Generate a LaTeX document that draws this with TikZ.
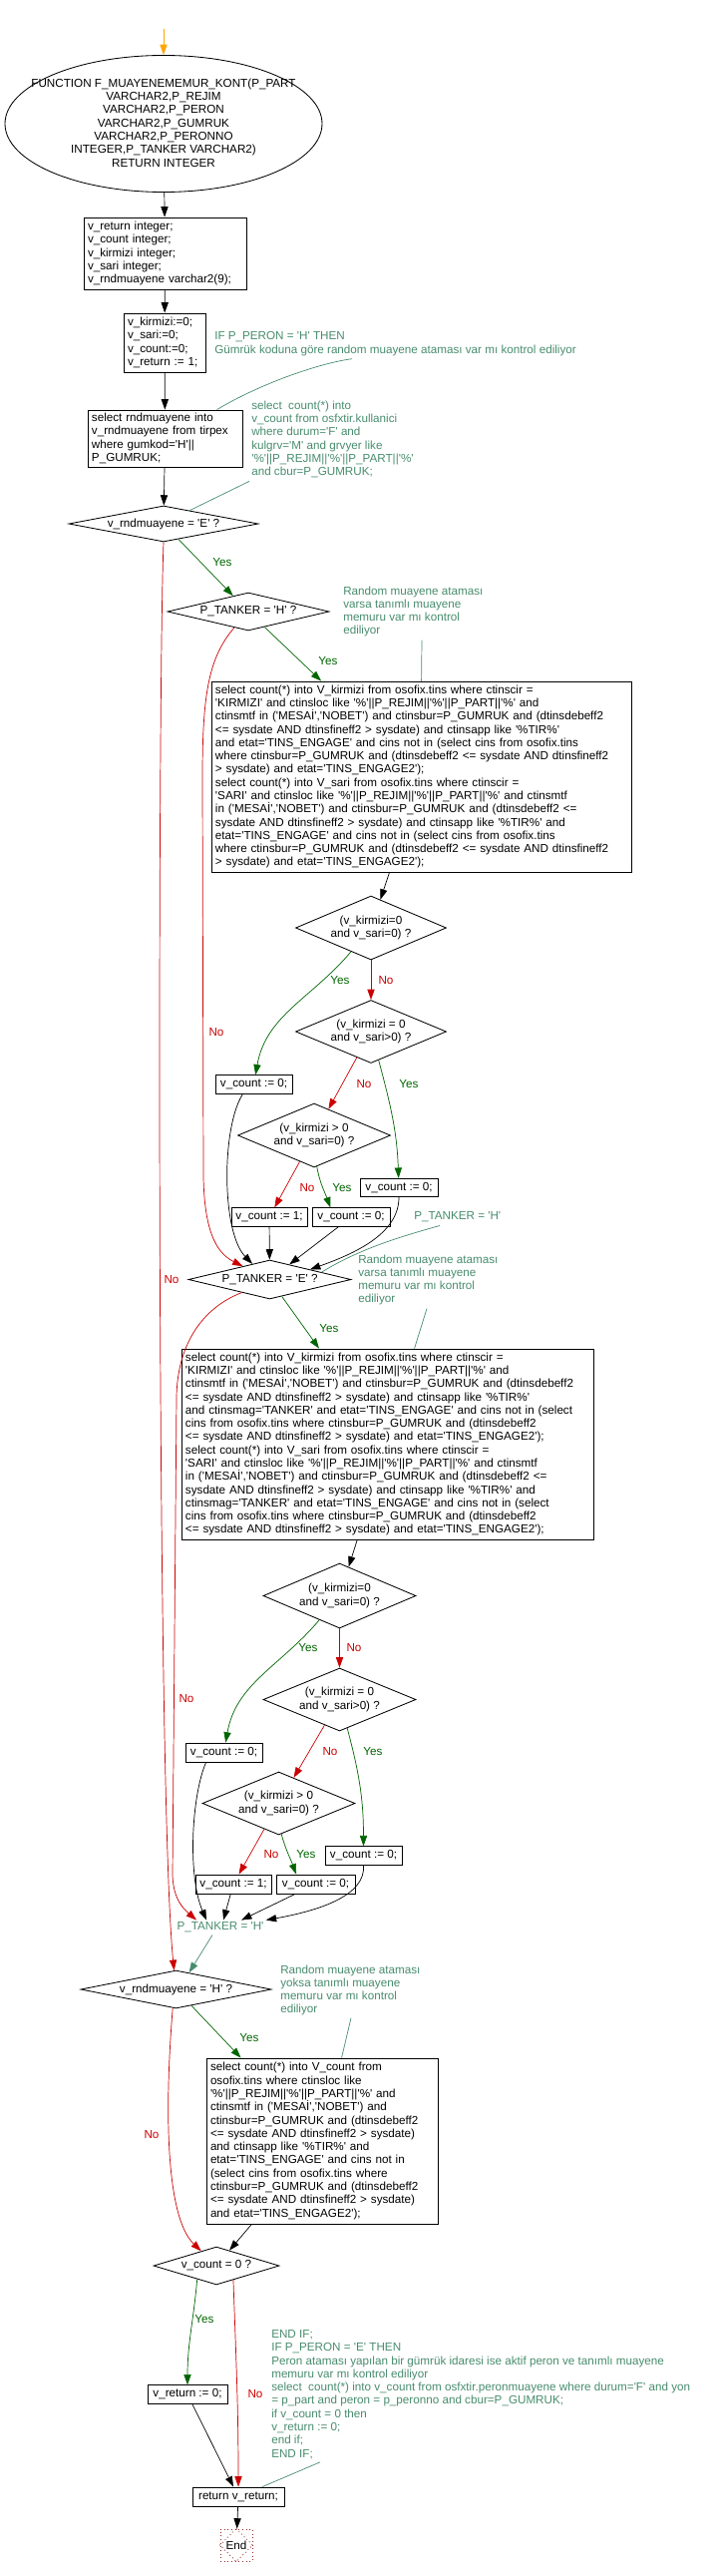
\documentclass[tikz,border=0pt]{standalone}
\usepackage{fontspec}
\usepackage{tikz}
\usetikzlibrary{shapes.geometric,arrows.meta,calc}
\newfontfamily\akisfont{Liberation Sans}
\newcommand{\akisyazi}{\akisfont\fontsize{8.3}{9.45}\selectfont}
\definecolor{hayirkirmizi}{RGB}{204,0,0}
\definecolor{evetyesil}{RGB}{0,100,0}
\definecolor{yorumyesil}{RGB}{72,140,110}
\definecolor{bitiskahve}{RGB}{150,40,40}
\definecolor{giristuruncu}{RGB}{255,165,0}

\begin{document}
\begin{tikzpicture}[x=0.25mm,y=-0.25mm]
\tikzstyle{kutu}=[rectangle,draw,line width=0.6pt,align=left,inner xsep=1mm,inner ysep=0.5mm,font=\akisyazi]
\tikzstyle{tek_kutu}=[rectangle,draw,line width=0.6pt,inner xsep=0.5mm,inner ysep=0.5mm,minimum height=4.6mm,font=\akisyazi]
\tikzstyle{karar}=[diamond,draw,line width=0.6pt,inner sep=0pt,align=center,font=\akisyazi]
\tikzstyle{yorum}=[anchor=west,align=left,inner sep=0pt,text=yorumyesil,font=\akisyazi]
\tikzstyle{evet_yazi}=[text=evetyesil,inner sep=0pt,font=\akisyazi]
\tikzstyle{hayir_yazi}=[text=hayirkirmizi,inner sep=0pt,font=\akisyazi]
\tikzstyle{oklu}=[-{Triangle[length=2.6mm,width=1.8mm]},line width=0.5pt]
\tikzstyle{yorum_cizgi}=[yorumyesil,line width=0.5pt]
\useasboundingbox (0,0) rectangle (721,2582);

% fonksiyon basi
\coordinate (giris) at (164,29);
\node[ellipse,draw,line width=0.6pt,minimum width=79.5mm,minimum height=34.25mm,inner sep=0pt] (fonk) at (164,124) {};
\node[font=\akisyazi,align=center,inner sep=0pt] (fonk_yazi) at (164,123) {FUNCTION F\_MUAYENEMEMUR\_KONT(P\_PART\\VARCHAR2,P\_REJIM\\VARCHAR2,P\_PERON\\VARCHAR2,P\_GUMRUK\\VARCHAR2,P\_PERONNO\\INTEGER,P\_TANKER VARCHAR2)\\RETURN INTEGER};
\node[kutu,text width=38.75mm,minimum height=18mm] (tanim) at (165.5,254) {v\_return integer;\\v\_count integer;\\v\_kirmizi integer;\\v\_sari integer;\\v\_rndmuayene varchar2(9);};
\node[kutu,text width=18.5mm,minimum height=14.75mm] (ilk) at (165,343.5) {v\_kirmizi:=0;\\v\_sari:=0;\\v\_count:=0;\\v\_return := 1;};
\node[kutu,text width=36.75mm,minimum height=14.25mm] (rnd) at (165.5,439.5) {select rndmuayene into\\v\_rndmuayene from tirpex\\where gumkod='H'||\\P\_GUMRUK;};
\node[karar,minimum width=47.5mm,minimum height=9mm,aspect=5.28] (k1) at (164,525) {v\_rndmuayene = 'E' ?};
\node[karar,minimum width=40.5mm,minimum height=9.5mm,aspect=4.26] (k2) at (249,613) {P\_TANKER = 'H' ?};

% birinci sorgu
\node[kutu,text width=103.25mm,minimum height=47.75mm] (sorgu1) at (422.5,778.5) {select count(*) into V\_kirmizi from osofix.tins where ctinscir =\\'KIRMIZI' and ctinsloc like '\%'||P\_REJIM||'\%'||P\_PART||'\%' and\\ctinsmtf in ('MESAİ','NOBET') and ctinsbur=P\_GUMRUK and (dtinsdebeff2\\<= sysdate AND dtinsfineff2 > sysdate) and ctinsapp like '\%TIR\%'\\and etat='TINS\_ENGAGE' and cins not in (select cins from osofix.tins\\where ctinsbur=P\_GUMRUK and (dtinsdebeff2 <= sysdate AND dtinsfineff2\\> sysdate) and etat='TINS\_ENGAGE2');\\select count(*) into V\_sari from osofix.tins where ctinscir =\\'SARI' and ctinsloc like '\%'||P\_REJIM||'\%'||P\_PART||'\%' and ctinsmtf\\in ('MESAİ','NOBET') and ctinsbur=P\_GUMRUK and (dtinsdebeff2 <=\\sysdate AND dtinsfineff2 > sysdate) and ctinsapp like '\%TIR\%' and\\etat='TINS\_ENGAGE' and cins not in (select cins from osofix.tins\\where ctinsbur=P\_GUMRUK and (dtinsdebeff2 <= sysdate AND dtinsfineff2\\> sysdate) and etat='TINS\_ENGAGE2');};
\node[karar,minimum width=37.75mm,minimum height=16mm,aspect=2.36] (k3) at (372,930) {(v\_kirmizi=0\\and v\_sari=0) ?};
\node[karar,minimum width=37.75mm,minimum height=15.75mm,aspect=2.4] (k4) at (372,1034) {(v\_kirmizi = 0\\and v\_sari>0) ?};
\node[karar,minimum width=38.25mm,minimum height=16mm,aspect=2.39] (k5) at (315,1138) {(v\_kirmizi > 0\\and v\_sari=0) ?};
\node[tek_kutu,minimum width=19.25mm] (a1) at (254.5,1087) {v\_count := 0;};
\node[tek_kutu,minimum width=19.5mm] (c1) at (400,1190.5) {v\_count := 0;};
\node[tek_kutu,minimum width=19mm] (d1) at (270,1220) {v\_count := 1;};
\node[tek_kutu,minimum width=19.5mm] (e1) at (352,1220) {v\_count := 0;};
\node[karar,minimum width=40.75mm,minimum height=9.75mm,aspect=4.18] (k6) at (270.5,1282.5) {P\_TANKER = 'E' ?};

% ikinci sorgu
\node[kutu,text width=101.25mm,minimum height=47.75mm] (sorgu2) at (388.5,1447.5) {select count(*) into V\_kirmizi from osofix.tins where ctinscir =\\'KIRMIZI' and ctinsloc like '\%'||P\_REJIM||'\%'||P\_PART||'\%' and\\ctinsmtf in ('MESAİ','NOBET') and ctinsbur=P\_GUMRUK and (dtinsdebeff2\\<= sysdate AND dtinsfineff2 > sysdate) and ctinsapp like '\%TIR\%'\\and ctinsmag='TANKER' and etat='TINS\_ENGAGE' and cins not in (select\\cins from osofix.tins where ctinsbur=P\_GUMRUK and (dtinsdebeff2\\<= sysdate AND dtinsfineff2 > sysdate) and etat='TINS\_ENGAGE2');\\select count(*) into V\_sari from osofix.tins where ctinscir =\\'SARI' and ctinsloc like '\%'||P\_REJIM||'\%'||P\_PART||'\%' and ctinsmtf\\in ('MESAİ','NOBET') and ctinsbur=P\_GUMRUK and (dtinsdebeff2 <=\\sysdate AND dtinsfineff2 > sysdate) and ctinsapp like '\%TIR\%' and\\ctinsmag='TANKER' and etat='TINS\_ENGAGE' and cins not in (select\\cins from osofix.tins where ctinsbur=P\_GUMRUK and (dtinsdebeff2\\<= sysdate AND dtinsfineff2 > sysdate) and etat='TINS\_ENGAGE2');};
\node[karar,minimum width=38.25mm,minimum height=16.25mm,aspect=2.35] (k7) at (340.5,1599.5) {(v\_kirmizi=0\\and v\_sari=0) ?};
\node[karar,minimum width=38.25mm,minimum height=15.75mm,aspect=2.43] (k8) at (340.5,1703.5) {(v\_kirmizi = 0\\and v\_sari>0) ?};
\node[karar,minimum width=38.25mm,minimum height=15.75mm,aspect=2.43] (k9) at (279.5,1807.5) {(v\_kirmizi > 0\\and v\_sari=0) ?};
\node[tek_kutu,minimum width=19.25mm,minimum height=4.75mm] (a2) at (224.5,1756.5) {v\_count := 0;};
\node[tek_kutu,minimum width=19.25mm] (c2) at (364.5,1860) {v\_count := 0;};
\node[tek_kutu,minimum width=19mm,minimum height=4.75mm] (d2) at (234,1888.5) {v\_count := 1;};
\node[tek_kutu,minimum width=19.75mm,minimum height=4.75mm] (e2) at (316.5,1888.5) {v\_count := 0;};
\node[text=yorumyesil,font=\akisyazi,inner sep=0.5mm] (ptank_h) at (221,1932) {P\_TANKER = 'H'};
\node[karar,minimum width=47.75mm,minimum height=9.5mm,aspect=5.03] (k10) at (176.5,1994) {v\_rndmuayene = 'H' ?};

% ucuncu sorgu ve donus
\node[kutu,text width=56mm,minimum height=41.5mm] (sorgu3) at (323,2146) {select count(*) into V\_count from\\osofix.tins where ctinsloc like\\'\%'||P\_REJIM||'\%'||P\_PART||'\%' and\\ctinsmtf in ('MESAİ','NOBET') and\\ctinsbur=P\_GUMRUK and (dtinsdebeff2\\<= sysdate AND dtinsfineff2 > sysdate)\\and ctinsapp like '\%TIR\%' and\\etat='TINS\_ENGAGE' and cins not in\\(select cins from osofix.tins where\\ctinsbur=P\_GUMRUK and (dtinsdebeff2\\<= sysdate AND dtinsfineff2 > sysdate)\\and etat='TINS\_ENGAGE2');};
\node[karar,minimum width=31.5mm,minimum height=9.5mm,aspect=3.3] (k11) at (217,2271) {v\_count = 0 ?};
\node[tek_kutu,minimum width=20mm] (g) at (188,2400) {v\_return := 0;};
\node[tek_kutu,minimum width=23mm,minimum height=4.75mm] (don) at (239,2502.5) {return v\_return;};
\node[draw=bitiskahve,dotted,line width=0.6pt,minimum size=8mm,inner sep=0pt,font=\akisyazi] (son) at (237,2551) {End};
\draw[bitiskahve,dotted,line width=0.6pt] (son.north) -- (son.east) -- (son.south) -- (son.west) -- cycle;

% yorumlar
\node[yorum] (y1) at (215,344.5) {IF P\_PERON = 'H' THEN\\Gümrük koduna göre random muayene ataması var mı kontrol ediliyor};
\node[yorum] (y2) at (252,440.5) {select\ \ count(*) into\\v\_count from osfxtir.kullanici\\where durum='F' and\\kulgrv='M' and grvyer like\\'\%'||P\_REJIM||'\%'||P\_PART||'\%'\\and cbur=P\_GUMRUK;};
\node[yorum] (y3) at (344,613) {Random muayene ataması\\varsa tanımlı muayene\\memuru var mı kontrol\\ediliyor};
\node[yorum] (y4) at (415,1220) {P\_TANKER = 'H'};
\node[yorum] (y5) at (359,1283) {Random muayene ataması\\varsa tanımlı muayene\\memuru var mı kontrol\\ediliyor};
\node[yorum] (y6) at (281,1995) {Random muayene ataması\\yoksa tanımlı muayene\\memuru var mı kontrol\\ediliyor};
\node[yorum] (y7) at (272,2400) {END IF;\\IF P\_PERON = 'E' THEN\\Peron ataması yapılan bir gümrük idaresi ise aktif peron ve tanımlı muayene\\memuru var mı kontrol ediliyor\\select\ \ count(*) into v\_count from osfxtir.peronmuayene where durum='F' and yon\\= p\_part and peron = p\_peronno and cbur=P\_GUMRUK;\\if v\_count = 0 then\\v\_return := 0;\\end if;\\END IF;};

% etiketler
\node[evet_yazi] (ev1) at (223,564) {Yes};
\node[hayir_yazi] (hy1) at (172,1283) {No};
\node[evet_yazi] (ev2) at (329,663) {Yes};
\node[hayir_yazi] (hy2) at (217,1035) {No};
\node[evet_yazi] (ev3) at (341,983) {Yes};
\node[hayir_yazi] (hy3) at (387,983) {No};
\node[hayir_yazi] (hy4) at (365,1087) {No};
\node[evet_yazi] (ev4) at (410,1087) {Yes};
\node[hayir_yazi] (hy5) at (308,1191) {No};
\node[evet_yazi] (ev5) at (343,1191) {Yes};
\node[evet_yazi] (ev6) at (330,1332) {Yes};
\node[hayir_yazi] (hy6) at (187,1703) {No};
\node[evet_yazi] (ev7) at (309,1652) {Yes};
\node[hayir_yazi] (hy7) at (355,1652) {No};
\node[hayir_yazi] (hy8) at (331,1756) {No};
\node[evet_yazi] (ev8) at (374,1756) {Yes};
\node[hayir_yazi] (hy9) at (272,1859) {No};
\node[evet_yazi] (ev9) at (307,1859) {Yes};
\node[evet_yazi] (ev10) at (250,2043) {Yes};
\node[hayir_yazi] (hy10) at (152,2140) {No};
\node[evet_yazi] (ev11) at (205,2325) {Yes};
\node[hayir_yazi] (hy11) at (256,2400) {No};

% akis oklari
\draw[oklu,giristuruncu] (giris) -- (fonk);
\draw[oklu] (fonk) -- (tanim);
\draw[oklu] (tanim) -- (ilk);
\draw[oklu] (ilk) -- (rnd);
\draw[oklu] (rnd) -- (k1);
\draw[oklu,evetyesil] (k1) -- (k2);
\draw[oklu,hayirkirmizi] (k1.south) .. controls (158,700) and (157,1800) .. (k10);
\draw[oklu,evetyesil] (k2) -- (sorgu1);
\draw[oklu,hayirkirmizi] (k2) .. controls (208,660) and (203,700) .. (203,780) -- (204,1180) .. controls (205,1230) and (215,1255) .. (k6);
\draw[oklu] (sorgu1) -- (k3);
\draw[oklu,hayirkirmizi] (k3) -- (k4);
\draw[oklu,evetyesil] (k3) to[out=-130,in=80] (a1);
\draw[oklu,hayirkirmizi] (k4) -- (k5);
\draw[oklu,evetyesil] (k4) to[out=-75,in=92] (c1);
\draw[oklu,hayirkirmizi] (k5) -- (d1);
\draw[oklu,evetyesil] (k5.-85) to[out=-80,in=110] (e1.155);
\draw[oklu] (a1.-139) .. controls (222,1130) and (222,1235) .. (k6.138);
\draw[oklu] (d1) -- (k6);
\draw[oklu] (e1) -- (k6);
\draw[oklu] (c1.south) .. controls (400,1235) and (360,1255) .. (k6.14);
\draw[oklu,evetyesil] (k6) -- (sorgu2);
\draw[oklu,hayirkirmizi] (k6.-155) .. controls (205,1310) and (178,1345) .. (177,1400) -- (173,1880) .. controls (174,1905) and (185,1914) .. ([xshift=-6mm]ptank_h.north);
\draw[oklu] (sorgu2) -- (k7);
\draw[oklu,hayirkirmizi] (k7) -- (k8);
\draw[oklu,evetyesil] (k7) to[out=-130,in=80] (a2);
\draw[oklu,hayirkirmizi] (k8) -- (k9);
\draw[oklu,evetyesil] (k8) to[out=-75,in=90] (c2);
\draw[oklu,hayirkirmizi] (k9) -- (d2);
\draw[oklu,evetyesil] (k9.-85) to[out=-75,in=110] (e2.153);
\draw[oklu] (a2.-151) .. controls (192,1800) and (188,1880) .. ([xshift=-3.5mm]ptank_h.north);
\draw[oklu] (d2) -- ([xshift=0.75mm]ptank_h.north);
\draw[oklu] (e2) -- ([xshift=5.25mm]ptank_h.north);
\draw[oklu] (c2.south) .. controls (367,1900) and (320,1915) .. (ptank_h.north east);
\draw[oklu,yorumyesil] ([xshift=-2mm]ptank_h.south) -- (k10.52);
\draw[oklu,evetyesil] (k10) -- ($(sorgu3.north west)+(35,0)$);
\draw[oklu,hayirkirmizi] (k10.-100) .. controls (166,2100) and (164,2220) .. (k11);
\draw[oklu] (sorgu3) -- (k11);
\draw[oklu,evetyesil] (k11.-145) to[out=-95,in=90] (g);
\draw[oklu,hayirkirmizi] (k11.-40) to[out=-88,in=90] (don.north);
\draw[oklu] (g) -- (don);
\draw[oklu] (don) -- (son);

% yorum baglantilari
\draw[yorum_cizgi] ($(y1.south west)+(138,3)$) .. controls (320,364) and (260,385) .. ($(rnd.north west)+(130,0)$);
\draw[yorum_cizgi] ($(y2.south west)+(-2,3)$) -- (k1.27);
\draw[yorum_cizgi] ($(y3.south west)+(79,3)$) -- ($(sorgu1.north west)+(211,0)$);
\draw[yorum_cizgi] ($(y4.south west)+(26,3)$) .. controls (400,1240) and (360,1252) .. (k6.8);
\draw[yorum_cizgi] ($(y5.south west)+(69,3)$) -- ($(sorgu2.north west)+(234,0)$);
\draw[yorum_cizgi] ($(y6.south west)+(71,2)$) -- ($(sorgu3.north west)+(136,0)$);
\draw[yorum_cizgi] ($(y7.south west)+(49,3)$) -- ($(don.north)+(24,0)$);

\end{tikzpicture}
\end{document}
